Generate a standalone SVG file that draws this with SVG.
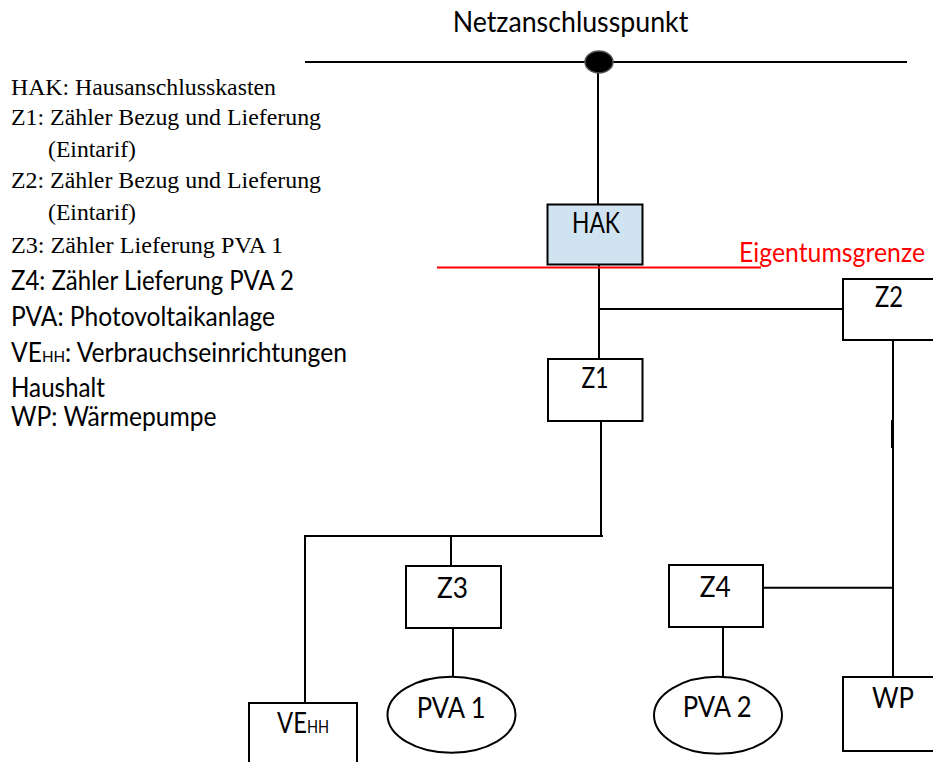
<svg xmlns="http://www.w3.org/2000/svg" width="933" height="762" viewBox="0 0 933 762">
<style>
.ln{stroke:#000;stroke-width:2;fill:none}
.box{stroke:#000;stroke-width:2;fill:#fff}
.hak{stroke:#000;stroke-width:2;fill:#cfe3f1}
.lbl{font-family:Lato,"Open Sans",sans-serif;font-size:28px;fill:#000;text-anchor:middle}
.lbs{font-family:Lato,"Open Sans",sans-serif;font-size:28px;fill:#000}
.leg{font-family:"Liberation Serif","Times New Roman",serif;font-size:23.5px;fill:#000}
.legs{font-family:Lato,"Open Sans",sans-serif;font-size:26px;fill:#000}
</style>
<rect width="933" height="762" fill="#fff"/>
<g id="legend">
<text class="leg" x="11" y="95" textLength="265" lengthAdjust="spacingAndGlyphs">HAK: Hausanschlusskasten</text>
<text class="leg" x="11" y="125" textLength="310" lengthAdjust="spacingAndGlyphs">Z1: Zähler Bezug und Lieferung</text>
<text class="leg" x="48" y="157" textLength="88" lengthAdjust="spacingAndGlyphs">(Eintarif)</text>
<text class="leg" x="11" y="188" textLength="310" lengthAdjust="spacingAndGlyphs">Z2: Zähler Bezug und Lieferung</text>
<text class="leg" x="48" y="220" textLength="88" lengthAdjust="spacingAndGlyphs">(Eintarif)</text>
<text class="leg" x="11" y="253" textLength="272" lengthAdjust="spacingAndGlyphs">Z3: Zähler Lieferung PVA 1</text>
<text class="legs" x="11" y="290" textLength="283" lengthAdjust="spacingAndGlyphs">Z4: Zähler Lieferung PVA 2</text>
<text class="legs" x="11" y="326" textLength="264" lengthAdjust="spacingAndGlyphs">PVA: Photovoltaikanlage</text>
<text class="legs" x="11" y="361.7" textLength="336" lengthAdjust="spacingAndGlyphs">VE<tspan font-size="16">HH</tspan>: Verbrauchseinrichtungen</text>
<text class="legs" x="11" y="396.7" textLength="94" lengthAdjust="spacingAndGlyphs">Haushalt</text>
<text class="legs" x="11" y="426" textLength="205.6" lengthAdjust="spacingAndGlyphs">WP: Wärmepumpe</text>
</g>
<g id="connectors">
<line class="ln" x1="305" y1="62" x2="907" y2="62"/>
<line class="ln" x1="598" y1="62" x2="598" y2="204"/>
<line class="ln" x1="599" y1="264" x2="599" y2="359"/>
<line class="ln" x1="599" y1="309" x2="843" y2="309"/>
<line class="ln" x1="893" y1="340" x2="893" y2="677"/>
<line class="ln" x1="892" y1="420" x2="892" y2="448" stroke-width="3"/>
<line class="ln" x1="601" y1="421" x2="601" y2="537"/>
<line class="ln" x1="304" y1="536" x2="603" y2="536"/>
<line class="ln" x1="305" y1="536" x2="305" y2="703"/>
<line class="ln" x1="451" y1="536" x2="451" y2="566"/>
<line class="ln" x1="453" y1="628" x2="453" y2="677"/>
<line class="ln" x1="763" y1="587.7" x2="893" y2="587.7"/>
<line class="ln" x1="723" y1="627" x2="723" y2="677"/>
</g>
<g id="netzanschlusspunkt">
<text class="lbl" x="570.5" y="31.7" font-size="29" textLength="235.6" lengthAdjust="spacingAndGlyphs">Netzanschlusspunkt</text>
<ellipse cx="599" cy="62" rx="14" ry="11" fill="#000" stroke="#555" stroke-width="1.5"/>
</g>
<g id="eigentumsgrenze">
<line x1="437" y1="267.5" x2="761" y2="267.5" stroke="#ff0000" stroke-width="2"/>
<text x="739" y="261.7" font-family="Lato,'Open Sans',sans-serif" font-size="26" fill="#ff0000" textLength="186" lengthAdjust="spacingAndGlyphs">Eigentumsgrenze</text>
</g>
<g id="hak">
<rect class="hak" x="547.5" y="204.5" width="95" height="60"/>
<text class="lbl" x="596" y="232.7" textLength="48" lengthAdjust="spacingAndGlyphs">HAK</text>
</g>
<g id="z2">
<rect class="box" x="843" y="279" width="100" height="61"/>
<text class="lbl" x="889" y="306.7" textLength="28" lengthAdjust="spacingAndGlyphs">Z2</text>
</g>
<g id="z1">
<rect class="box" x="548" y="359" width="94.5" height="62"/>
<text class="lbl" x="595" y="387.7" textLength="27" lengthAdjust="spacingAndGlyphs">Z1</text>
</g>
<g id="z3">
<rect class="box" x="406" y="566" width="95" height="62"/>
<text class="lbl" x="452.5" y="598.3" textLength="31" lengthAdjust="spacingAndGlyphs">Z3</text>
</g>
<g id="z4">
<rect class="box" x="669" y="565" width="94" height="62"/>
<text class="lbl" x="715.3" y="596.7" textLength="31" lengthAdjust="spacingAndGlyphs">Z4</text>
</g>
<g id="ve_hh">
<rect class="box" x="249" y="703" width="108" height="70"/>
<text class="lbs" x="277" y="733.3" font-size="26" textLength="52" lengthAdjust="spacingAndGlyphs">VE<tspan font-size="17">HH</tspan></text>
</g>
<g id="pva1">
<ellipse class="box" cx="451.5" cy="714.7" rx="64" ry="38"/>
<text class="lbl" x="451.2" y="718.3" textLength="69" lengthAdjust="spacingAndGlyphs">PVA 1</text>
</g>
<g id="pva2">
<ellipse class="box" cx="718" cy="715.3" rx="64" ry="38.5"/>
<text class="lbl" x="717.2" y="716.7" textLength="69" lengthAdjust="spacingAndGlyphs">PVA 2</text>
</g>
<g id="wp">
<rect class="box" x="843" y="677" width="100" height="74"/>
<text class="lbl" x="893" y="708.3" textLength="42" lengthAdjust="spacingAndGlyphs">WP</text>
</g>
</svg>
